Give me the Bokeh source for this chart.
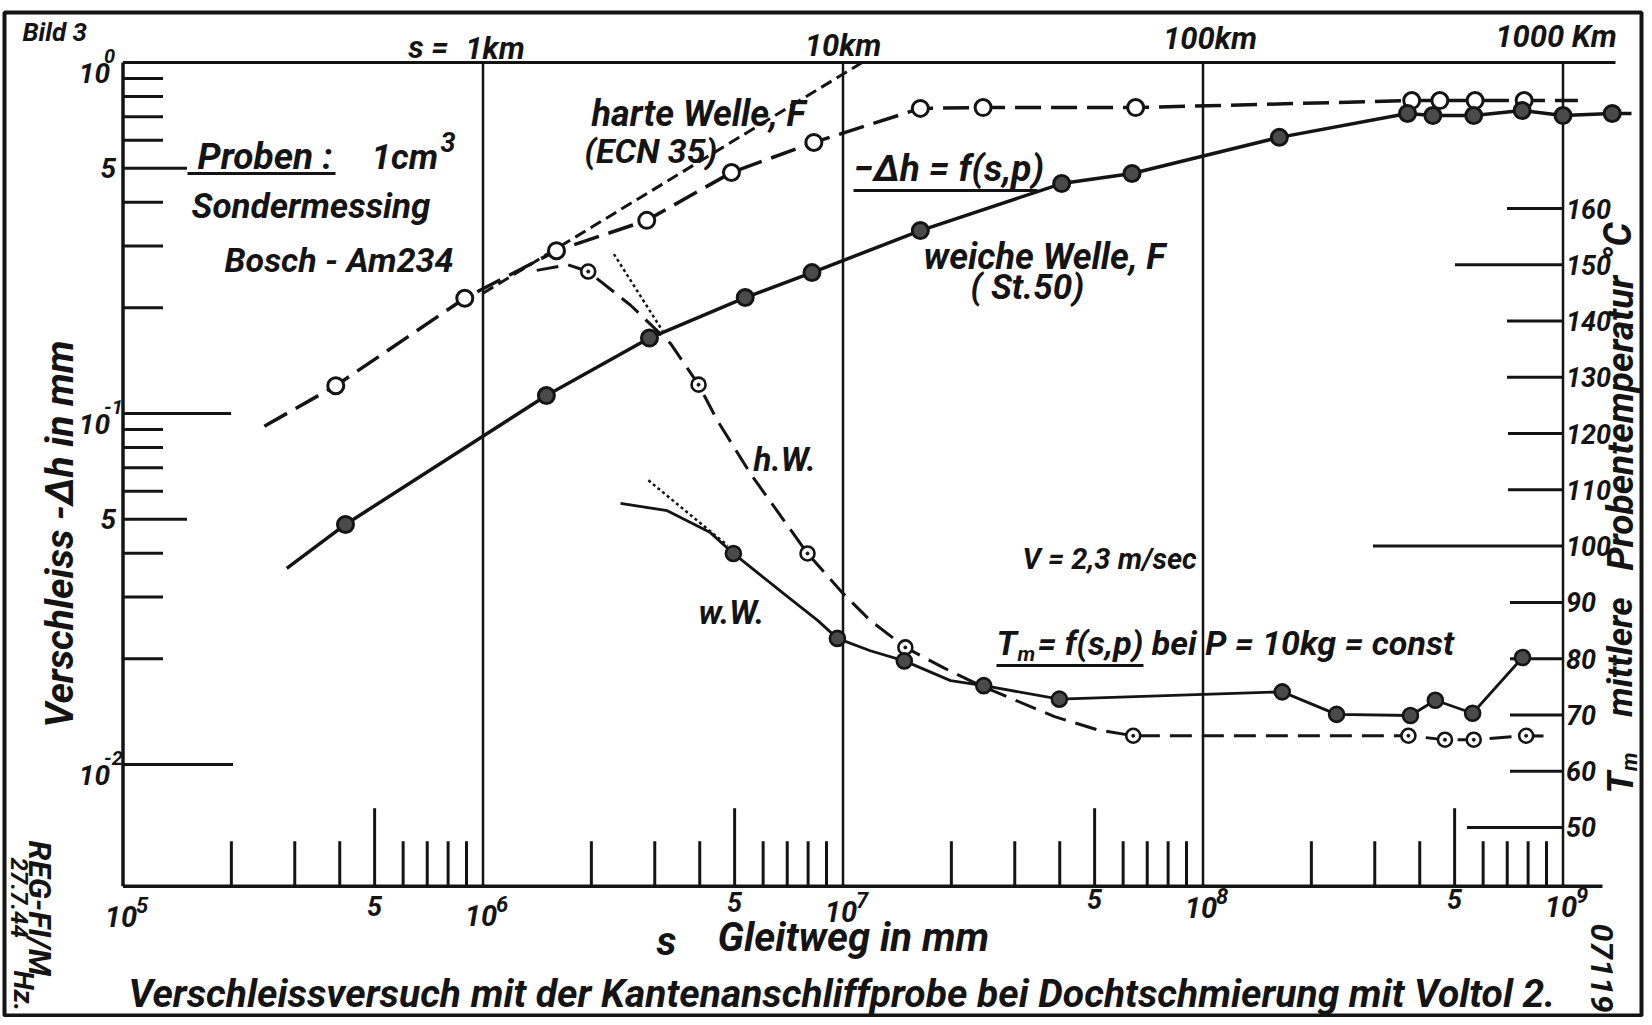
import math
from bokeh.plotting import figure
from bokeh.models import Range1d, LinearScale, Label, BoxAnnotation
from bokeh.core.properties import value
from bokeh.embed import file_html
from bokeh.resources import INLINE

FONT = "Roboto"
INK = "#141414"

# ---------------- values ----------------
# x: sliding distance s in mm ; left axis: wear -Δh in mm ; right axis: Tm in °C
hard_wear_s = [3.9e5, 8.9e5, 1.6e6, 2.85e6, 4.9e6, 8.3e6, 1.64e7, 2.45e7, 6.5e7, 3.8e8, 4.55e8, 5.7e8, 7.8e8]
hard_wear = [0.120, 0.213, 0.291, 0.355, 0.486, 0.592, 0.740, 0.744, 0.744, 0.779, 0.779, 0.779, 0.779]
hard_wear_curve_s = [2.47e5, 3.9e5, 8.9e5, 1.6e6, 2.85e6, 4.9e6, 8.3e6, 1.64e7, 2.45e7, 6.5e7,
                     3.8e8, 4.55e8, 5.7e8, 7.8e8, 1.10e9]
hard_wear_curve = [0.092, 0.120, 0.213, 0.291, 0.355, 0.486, 0.592, 0.740, 0.744, 0.744,
                   0.779, 0.779, 0.779, 0.779, 0.779]
hard_trend_s = [1.0e6, 1.13e7]
hard_trend = [0.22, 1.0]

soft_wear_s = [4.15e5, 1.5e6, 2.9e6, 5.35e6, 8.2e6, 1.64e7, 4.05e7, 6.35e7, 1.63e8, 3.7e8,
               4.35e8, 5.65e8, 7.7e8, 1.0e9, 1.37e9]
soft_wear = [0.0483, 0.1125, 0.164, 0.214, 0.252, 0.332, 0.452, 0.483, 0.612, 0.716,
             0.706, 0.706, 0.730, 0.706, 0.716]
soft_wear_curve_s = [2.85e5, 4.15e5, 1.5e6, 2.9e6, 5.35e6, 8.2e6, 1.64e7, 4.05e7, 6.35e7, 1.63e8,
                     3.7e8, 4.35e8, 5.65e8, 7.7e8, 1.0e9, 1.37e9, 1.55e9]
soft_wear_curve = [0.0362, 0.0483, 0.1125, 0.164, 0.214, 0.252, 0.332, 0.452, 0.483, 0.612,
                   0.716, 0.706, 0.706, 0.730, 0.706, 0.716, 0.716]

hard_temp_s = [1.96e6, 3.97e6, 7.97e6, 1.49e7, 6.4e7, 3.72e8, 4.7e8, 5.65e8, 7.9e8]
hard_temp = [148.8, 128.7, 98.7, 82.0, 66.3, 66.3, 65.6, 65.6, 66.3]
hard_temp_curve_s = [1.41e6, 1.72e6, 1.96e6, 2.57e6, 3.32e6, 3.97e6, 4.48e6, 5.53e6, 7.97e6, 1.0e7,
                     1.19e7, 1.49e7, 1.9e7, 2.41e7, 3.87e7, 5.06e7, 6.4e7, 3.72e8, 4.7e8, 5.65e8,
                     7.9e8, 9.4e8]
hard_temp_curve = [149.0, 150.0, 148.8, 142.8, 136.0, 128.7, 122.3, 112.9, 98.7, 91.6,
                   86.8, 82.0, 78.4, 75.2, 69.7, 67.4, 66.3, 66.3, 65.6, 65.6,
                   66.3, 66.2]
hard_temp_tangent_s = [2.31e6, 3.15e6]
hard_temp_tangent = [151.9, 138.3]

soft_temp_s = [4.96e6, 9.65e6, 1.48e7, 2.46e7, 3.99e7, 1.66e8, 2.35e8, 3.77e8, 4.42e8, 5.61e8, 7.72e8]
soft_temp = [98.7, 83.6, 79.6, 75.2, 72.8, 74.1, 70.1, 69.9, 72.6, 70.3, 80.2]
soft_temp_curve_s = [2.41e6, 3.25e6, 4.28e6, 4.96e6, 6.83e6, 8.5e6, 9.65e6, 1.19e7, 1.48e7, 1.99e7,
                     2.46e7, 3.99e7, 1.66e8, 2.35e8, 3.77e8, 4.42e8, 5.61e8, 7.72e8]
soft_temp_curve = [107.6, 106.3, 102.4, 98.7, 91.6, 86.8, 83.6, 81.4, 79.6, 76.1,
                   75.2, 72.8, 74.1, 70.1, 69.9, 72.6, 70.3, 80.2]
soft_temp_tangent_s = [2.88e6, 4.78e6]
soft_temp_tangent = [111.7, 100.1]

# axis ticks and labels
x_decades = [1e5, 1e6, 1e7, 1e8, 1e9]
x_decade_exp = ["5", "6", "7", "8", "9"]
x_minor_mult = [2, 3, 4, 5, 6, 7, 8, 9]
x_five = [5e5, 5e6, 5e7, 5e8]
km_pos = [1e6, 1e7, 1e8, 1e9]
km_labels = ["1km", "10km", "100km", "1000 Km"]
y_decades = [1.0, 0.1, 0.01]
y_decade_exp = ["0", "-1", "-2"]
y_minor_decades = [0.1, 0.01]
y_five = [0.5, 0.05]
temp_ticks = [160, 150, 140, 130, 120, 110, 100, 90, 80, 70, 60, 50]
temp_labels = [str(t) for t in temp_ticks]

AXIS_FLOOR = 0.0045      # level of the drawn s-axis
AXIS_TOP = 1.0

# ---------------- layout helpers (page pixel -> data) ----------------
W, H = 1644, 1017
BASE_FIX = 0.25          # alphabetic baseline correction, in em


def xd(X):
    return 10 ** (5 + (X - 122.5) / 360.0)


def yd(Y):
    return 10 ** (-(Y - 62) / 351.0)


def td(Y):
    return 160 - (Y - 208) / 5.627


p = figure(width=W, height=H, x_axis_type="log", y_axis_type="log",
           x_range=Range1d(xd(0), xd(W)), y_range=Range1d(yd(H), yd(0)),
           output_backend="svg", toolbar_location=None, title=None,
           x_axis_location=None, y_axis_location=None, min_border=0,
           outline_line_color=None, background_fill_color="white",
           border_fill_color="white")
p.extra_y_ranges = {"temp": Range1d(td(H), td(0))}
p.extra_y_scales = {"temp": LinearScale()}
p.xgrid.visible = False
p.ygrid.visible = False

# ---------------- frame, axes and ticks ----------------
p.add_layout(BoxAnnotation(left=xd(4), right=xd(1641), top=yd(12), bottom=yd(1015),
                           fill_color=None, line_color=INK, line_alpha=1, line_width=4))

p.segment(x0=x_decades[1:], y0=[AXIS_FLOOR] * 4, x1=x_decades[1:], y1=[AXIS_TOP] * 4,
          line_color=INK, line_width=2.5)
p.segment(x0=[1e5], y0=[AXIS_FLOOR], x1=[1e5], y1=[AXIS_TOP], line_color=INK, line_width=3.5)
p.line([1e5, xd(1602)], [AXIS_FLOOR, AXIS_FLOOR], line_color=INK, line_width=3.5)
p.line([1e5, xd(1615)], [AXIS_TOP, AXIS_TOP], line_color=INK, line_width=3)

x_minor = [m * d for d in x_decades[:4] for m in x_minor_mult]
x_minor_len = [78 if m == 5 else 45 for d in x_decades[:4] for m in x_minor_mult]
p.ray(x=x_minor, y=[AXIS_FLOOR] * len(x_minor), length=x_minor_len, length_units="screen",
      angle=math.pi / 2, line_color=INK, line_width=3)

y_minor = [m * d for d in y_minor_decades for m in [9, 8, 7, 6, 5, 4, 3, 2]]
y_minor_len = [64 if m == 5 else 40 for d in y_minor_decades for m in [9, 8, 7, 6, 5, 4, 3, 2]]
p.ray(x=[1e5] * len(y_minor), y=y_minor, length=y_minor_len, length_units="screen",
      angle=0, line_color=INK, line_width=3)
p.ray(x=[1e5, 1e5], y=y_decades[1:], length=[108, 110], length_units="screen",
      angle=0, line_color=INK, line_width=3)

temp_len = [56, 108, 56, 56, 55, 55, 190, 53, 53, 53, 53, 96]
p.ray(x=[1e9] * len(temp_ticks), y=temp_ticks, length=temp_len, length_units="screen",
      angle=math.pi, line_color=INK, line_width=3, y_range_name="temp")

TS = dict(text_font=value(FONT), text_font_style="bold italic", text_color=INK)

p.text(x=x_decades, y=[AXIS_FLOOR] * 5, text=["10"] * 5, text_font_size="29px",
       text_align="center", text_baseline="alphabetic", x_offset=-2,
       y_offset=[30, 29, 25, 21, 20], **TS)
p.text(x=x_decades, y=[AXIS_FLOOR] * 5, text=x_decade_exp, text_font_size="22px",
       text_align="left", text_baseline="alphabetic", x_offset=13,
       y_offset=[19, 18, 14, 10, 9], **TS)
p.text(x=x_five, y=[AXIS_FLOOR] * 4, text=["5"] * 4, text_font_size="27px",
       text_align="center", text_baseline="alphabetic", y_offset=[20, 16, 13, 13], **TS)

p.text(x=km_pos, y=[AXIS_TOP] * 4, text=km_labels, text_font_size="31px",
       text_align="center", text_baseline="alphabetic",
       x_offset=[12, 0, 7, -7], y_offset=[-14, -17, -24, -26], **TS)

p.text(x=[1e5] * 3, y=y_decades, text=["10"] * 3, text_font_size="28px",
       text_align="right", text_baseline="alphabetic", x_offset=-13, y_offset=10, **TS)
p.text(x=[1e5] * 3, y=y_decades, text=y_decade_exp, text_font_size="20px",
       text_align="left", text_baseline="alphabetic", x_offset=-19, y_offset=-7, **TS)
p.text(x=[1e5] * 2, y=y_five, text=["5"] * 2, text_font_size="28px",
       text_align="right", text_baseline="middle", x_offset=-7, **TS)

p.text(x=[1e9] * len(temp_ticks), y=temp_ticks, text=temp_labels, text_font_size="27px",
       text_align="left", text_baseline="middle", x_offset=3, y_range_name="temp", **TS)

# ---------------- data curves ----------------
p.line(hard_wear_curve_s, hard_wear_curve, line_color=INK, line_width=3.5, line_dash="26 10")
p.line(hard_trend_s, hard_trend, line_color=INK, line_width=3, line_dash="12 6")
p.line(soft_wear_curve_s, soft_wear_curve, line_color=INK, line_width=3.5)

p.line(hard_temp_curve_s, hard_temp_curve, line_color=INK, line_width=3, line_dash="22 10",
       y_range_name="temp")
p.line(hard_temp_tangent_s, hard_temp_tangent, line_color=INK, line_width=2.5, line_dash="3 3",
       y_range_name="temp")
p.line(soft_temp_curve_s, soft_temp_curve, line_color=INK, line_width=2.8, y_range_name="temp")
p.line(soft_temp_tangent_s, soft_temp_tangent, line_color=INK, line_width=2.5, line_dash="3 3",
       y_range_name="temp")

p.scatter(hard_wear_s, hard_wear, marker="circle", size=16, fill_color="white",
          line_color=INK, line_width=3)
p.scatter(soft_wear_s, soft_wear, marker="circle", size=16, fill_color="#4a4a4a",
          line_color=INK, line_width=3)
p.scatter(hard_temp_s, hard_temp, marker="circle", size=14, fill_color="white",
          line_color=INK, line_width=2.6, y_range_name="temp")
p.scatter(hard_temp_s, hard_temp, marker="circle", size=3, fill_color=INK,
          line_color=INK, y_range_name="temp")
p.scatter(soft_temp_s, soft_temp, marker="circle", size=15, fill_color="#4a4a4a",
          line_color=INK, line_width=2.6, y_range_name="temp")


# ---------------- texts ----------------
def lab(text, X, Y, size, align="left", angle=0.0):
    d = BASE_FIX * size
    if angle > 0.1:
        X -= d
    elif angle < -0.1:
        X += d
    else:
        Y -= d
    p.add_layout(Label(x=xd(X), y=yd(Y), text=text, text_font=FONT,
                       text_font_size=f"{size}px", text_font_style="bold italic",
                       text_color=INK, text_align=align, text_baseline="alphabetic",
                       angle=angle))


def underline(X0, X1, Y):
    p.add_layout(BoxAnnotation(left=xd(X0), right=xd(X1), top=yd(Y - 1.6), bottom=yd(Y + 1.6),
                               fill_color=INK, fill_alpha=1, line_color=None))


UP, DOWN = math.pi / 2, -math.pi / 2

lab("Bild 3", 22, 38, 26)
lab("s =", 448, 55, 31, align="right")

lab("Proben :", 197, 165, 37)
underline(187, 335, 173)
lab("1cm", 371, 166, 35)
lab("3", 440, 148, 27)
lab("Sondermessing", 191, 215, 35)
lab("Bosch - Am234", 224, 268, 34)

lab("harte Welle, F", 591, 122, 36)
lab("(ECN 35)", 584, 159, 34)
lab("\u2212\u0394h = f(s,p)", 853, 177, 37)
underline(853, 1037, 190)
lab("weiche Welle, F", 923, 265, 36)
lab("( St.50)", 970, 296, 35)

lab("h.W.", 753, 467, 33)
lab("w.W.", 698, 620, 33)
lab("V = 2,3 m/sec", 1022, 566, 29)
lab("T", 996, 651, 34)
lab("m", 1017, 659, 21)
lab("= f(s,p) bei P = 10kg = const", 1037, 651, 34)
underline(996, 1143, 665)

lab("Verschleiss  -\u0394h  in  mm", 69, 727, 39, angle=UP)
lab("\u00b0C", 1627, 222, 38, align="right", angle=UP)
lab("Probentemperatur", 1629, 275, 37, align="right", angle=UP)
lab("mittlere", 1629, 597, 35, align="right", angle=UP)
lab("T", 1629, 771, 37, align="right", angle=UP)
lab("m", 1634, 752, 22, align="right", angle=UP)

lab("s", 656, 951, 40)
lab("Gleitweg  in  mm", 717, 947, 40)
lab("Verschleissversuch mit  der Kantenanschliffprobe  bei Dochtschmierung mit Voltol 2.",
    128, 1003, 39)

lab("REG-FI/M", 31, 840, 32, angle=DOWN)
lab("27.7.44", 13, 857, 24, angle=DOWN)
lab("Hz.", 16, 970, 28, angle=DOWN)
lab("07119", 1593, 1012, 32, align="right", angle=DOWN)

open("out.html", "w").write(file_html(p, INLINE))
